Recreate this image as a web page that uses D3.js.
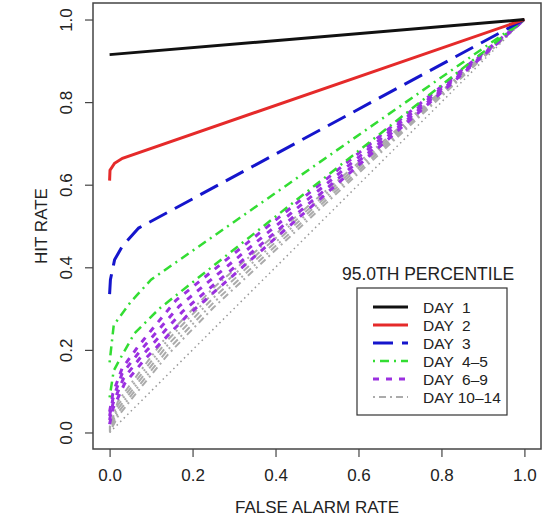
<!DOCTYPE html>
<html>
<head>
<meta charset="utf-8">
<script src="https://cdn.jsdelivr.net/npm/d3@7"></script>
<style>
  body { margin: 0; background: #fff; }
  svg text { font-family: "Liberation Sans", Arial, sans-serif; fill: #222; }
</style>
</head>
<body>
<div id="chart"></div>
<script>
// ROC points: [false alarm rate, hit rate]
const day1 = [[0, 0.915], [1, 1]];
const day2 = [[0, 0.61], [0.001, 0.635], [0.012, 0.652], [0.031, 0.664], [1, 1]];
const day3 = [[0, 0.335], [0.002, 0.37], [0.012, 0.418], [0.03, 0.45], [0.07, 0.495], [1, 1]];
const day4 = [[0, 0.17], [0.01, 0.26], [0.05, 0.315], [0.1, 0.37], [1, 1]];
const day5 = [[0, 0.085], [0.01, 0.15], [0.024, 0.176], [0.06, 0.24], [0.12, 0.30], [1, 1]];
const day6 = [[0, 0.05], [0.008, 0.095], [0.03, 0.155], [0.07, 0.21], [0.16, 0.32], [1, 1]];
const day7 = [[0, 0.04], [0.008, 0.082], [0.03, 0.142], [0.074, 0.198], [0.168, 0.306], [1, 1]];
const day8 = [[0, 0.03], [0.008, 0.07], [0.033, 0.13], [0.078, 0.186], [0.176, 0.293], [1, 1]];
const day9 = [[0, 0.02], [0.008, 0.058], [0.036, 0.118], [0.082, 0.174], [0.184, 0.28], [1, 1]];
const day10 = [[0, 0.012], [0.02, 0.075], [0.06, 0.13], [0.14, 0.236], [0.25, 0.35], [1, 1]];
const day11 = [[0, 0.009], [0.02, 0.066], [0.06, 0.12], [0.14, 0.224], [0.25, 0.338], [1, 1]];
const day12 = [[0, 0.006], [0.02, 0.057], [0.06, 0.11], [0.14, 0.212], [0.25, 0.326], [1, 1]];
const day13 = [[0, 0.003], [0.02, 0.048], [0.06, 0.1], [0.14, 0.2], [0.25, 0.314], [1, 1]];
const day14 = [[0, 0], [0.02, 0.039], [0.06, 0.09], [0.14, 0.188], [0.25, 0.302], [1, 1]];
const noSkill = [[0, 0], [1, 1]];

const tickValues = [0, 0.2, 0.4, 0.6, 0.8, 1.0];
const legendLabels = ["DAY  1", "DAY  2", "DAY  3", "DAY  4\u20135", "DAY  6\u20139", "DAY 10\u201314"];
const legendTitle = "95.0TH PERCENTILE";

const styles = [
    { color: "#111111", width: 3, dash: null },
    { color: "#e52a2a", width: 3, dash: null },
    { color: "#1515cc", width: 3, dash: "20,9" },
    { color: "#33dd33", width: 2.5, dash: "2,5,9,5" },
    { color: "#9b30e0", width: 3, dash: "6,7" },
    { color: "#ababab", width: 2, dash: "2,4,7,4" }
];

const groups = [
    { lines: [day10, day11, day12, day13, day14], style: styles[5] },
    { lines: [day6, day7, day8, day9], style: styles[4] },
    { lines: [day4, day5], style: styles[3] },
    { lines: [day3], style: styles[2] },
    { lines: [day2], style: styles[1] },
    { lines: [day1], style: styles[0] }
];

const width = 551, height = 520;
const box = { left: 93, right: 541, top: 3, bottom: 449 };

const x = d3.scaleLinear().domain([-0.04, 1.04]).range([box.left, box.right]);
const y = d3.scaleLinear().domain([-0.04, 1.04]).range([box.bottom, box.top]);

const svg = d3.select("#chart")
    .append("svg")
    .attr("width", width)
    .attr("height", height);

const line = d3.line()
    .x(d => x(d[0]))
    .y(d => y(d[1]));

// no-skill diagonal
svg.append("path")
    .datum(noSkill)
    .attr("d", line)
    .attr("fill", "none")
    .attr("stroke", "#999")
    .attr("stroke-width", 1.5)
    .attr("stroke-dasharray", "1.5,3.5");

groups.forEach(g => {
    g.lines.forEach(data => {
        svg.append("path")
            .datum(data)
            .attr("d", line)
            .attr("fill", "none")
            .attr("stroke", g.style.color)
            .attr("stroke-width", g.style.width)
            .attr("stroke-dasharray", g.style.dash);
    });
});

// plot frame
svg.append("rect")
    .attr("x", box.left)
    .attr("y", box.top)
    .attr("width", box.right - box.left)
    .attr("height", box.bottom - box.top)
    .attr("fill", "none")
    .attr("stroke", "#444")
    .attr("stroke-width", 1.5);

// x axis
const xAxis = svg.append("g")
    .attr("transform", `translate(0,${box.bottom})`)
    .call(d3.axisBottom(x).tickValues(tickValues).tickSize(8).tickPadding(12).tickFormat(d3.format(".1f")));
xAxis.select(".domain").remove();
xAxis.selectAll(".tick line").attr("stroke", "#444").attr("stroke-width", 1.2);
xAxis.selectAll(".tick text").style("font-size", "17px").attr("fill", "#222");

// y axis, labels turned like R's default
const yAxis = svg.append("g")
    .attr("transform", `translate(${box.left},0)`)
    .call(d3.axisLeft(y).tickValues(tickValues).tickSize(8).tickFormat(d3.format(".1f")));
yAxis.select(".domain").remove();
yAxis.selectAll(".tick line").attr("stroke", "#444").attr("stroke-width", 1.2);
yAxis.selectAll(".tick text")
    .attr("x", null).attr("dy", null)
    .attr("text-anchor", "middle")
    .attr("transform", "translate(-21,0) rotate(-90)")
    .style("font-size", "17px")
    .attr("fill", "#222");

// axis titles
svg.append("text")
    .attr("x", (box.left + box.right) / 2)
    .attr("y", 513)
    .attr("text-anchor", "middle")
    .style("font-size", "17px")
    .text("FALSE ALARM RATE");

svg.append("text")
    .attr("transform", `translate(47,${(box.top + box.bottom) / 2}) rotate(-90)`)
    .attr("text-anchor", "middle")
    .style("font-size", "17px")
    .text("HIT RATE");

// legend
svg.append("text")
    .attr("x", 428)
    .attr("y", 280)
    .attr("text-anchor", "middle")
    .style("font-size", "17.5px")
    .text(legendTitle);

const legend = svg.append("g");
legend.append("rect")
    .attr("x", 357).attr("y", 288)
    .attr("width", 150).attr("height", 127)
    .attr("fill", "#fff")
    .attr("stroke", "#333")
    .attr("stroke-width", 1.2);

legendLabels.forEach((label, i) => {
    const ry = 307 + i * 18;
    const s = styles[i];
    legend.append("line")
        .attr("x1", 373).attr("x2", 408)
        .attr("y1", ry).attr("y2", ry)
        .attr("stroke", s.color)
        .attr("stroke-width", s.width)
        .attr("stroke-dasharray", s.dash);
    legend.append("text")
        .attr("x", 423)
        .attr("y", ry + 6)
        .style("font-size", "15.5px")
        .style("white-space", "pre")
        .attr("xml:space", "preserve")
        .text(label);
});
</script>
</body>
</html>
